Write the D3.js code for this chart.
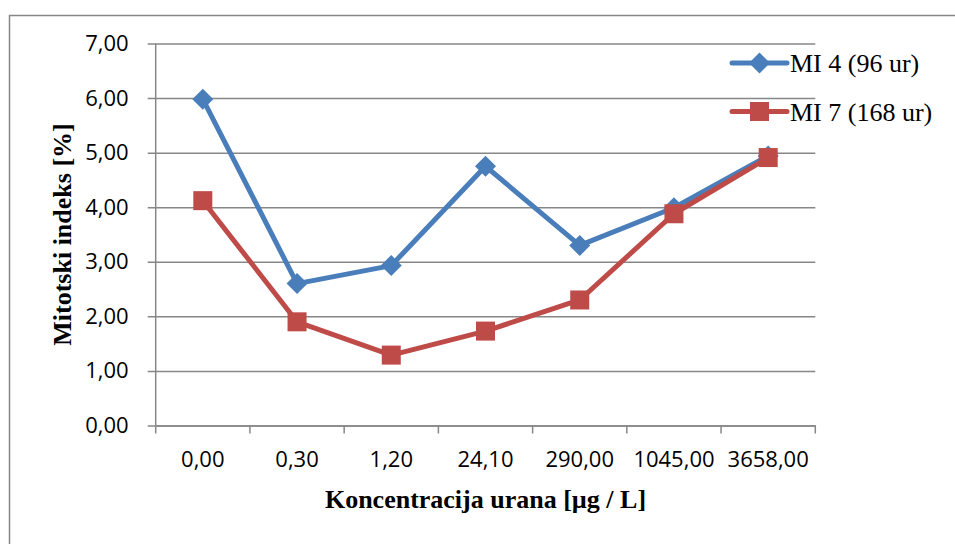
<!DOCTYPE html>
<html>
<head>
<meta charset="utf-8">
<script src="https://cdnjs.cloudflare.com/ajax/libs/d3/7.8.5/d3.min.js"></script>
<style>
    body { margin: 0; background: #fff; }
    svg { display: block; }
</style>
</head>
<body>
<div id="chart"></div>
<script>
var categories = ["0,00", "0,30", "1,20", "24,10", "290,00", "1045,00", "3658,00"];
var mi4 = [5.98, 2.60, 2.93, 4.75, 3.30, 3.99, 4.94];
var mi7 = [4.12, 1.90, 1.29, 1.73, 2.30, 3.88, 4.91];
var yTicks = [0, 1, 2, 3, 4, 5, 6, 7];
var seriesNames = ["MI 4 (96 ur)", "MI 7 (168 ur)"];

var width = 955, height = 544;
var margin = { left: 155.7, right: 139.7, top: 43.5, bottom: 118.5 };
var innerW = width - margin.left - margin.right;
var innerH = height - margin.top - margin.bottom;
var grid = "#878787";

var svg = d3.select("#chart").append("svg")
    .attr("width", width)
    .attr("height", height);

// outer chart border (cut off by the picture on the right and bottom)
svg.append("rect")
    .attr("x", 9.5).attr("y", 15.5)
    .attr("width", 1000).attr("height", 600)
    .attr("fill", "none")
    .attr("stroke", grid)
    .attr("stroke-width", 1.5);

var g = svg.append("g")
    .attr("transform", "translate(" + margin.left + "," + margin.top + ")");

var x = d3.scaleBand().domain(categories).range([0, innerW]);
var y = d3.scaleLinear().domain([0, 7]).range([innerH, 0]);

function cx(i) { return x(categories[i]) + x.bandwidth() / 2; }

// y axis with gridlines
var yAxis = g.append("g")
    .call(d3.axisLeft(y).tickValues(yTicks).tickSize(-innerW - 8).tickPadding(18)
        .tickFormat(function (d) { return d3.format(".2f")(d).replace(".", ","); }))
    .attr("transform", "translate(0,0)");
yAxis.select(".domain").remove();
yAxis.selectAll(".tick line")
    .attr("x1", -8).attr("x2", innerW)
    .attr("stroke", grid).attr("stroke-width", 1.5);
yAxis.selectAll(".tick text")
    .attr("x", -27)
    .attr("font-family", "'Open Sans', sans-serif")
    .attr("font-size", "22px")
    .attr("fill", "#000");

g.append("line")
    .attr("x1", 0).attr("x2", 0).attr("y1", 0).attr("y2", innerH)
    .attr("stroke", grid).attr("stroke-width", 1.5);

// x axis
var xAxis = g.append("g")
    .attr("transform", "translate(0," + innerH + ")")
    .call(d3.axisBottom(x).tickSize(0).tickPadding(26));
xAxis.select(".domain").attr("stroke", grid).attr("stroke-width", 1.5);
xAxis.selectAll(".tick text")
    .attr("font-family", "'Open Sans', sans-serif")
    .attr("font-size", "22px")
    .attr("fill", "#000");
xAxis.selectAll(".tick-mark")
    .data(d3.range(categories.length + 1))
    .enter().append("line")
    .attr("x1", function (i) { return i * x.step(); })
    .attr("x2", function (i) { return i * x.step(); })
    .attr("y1", 0).attr("y2", 8)
    .attr("stroke", grid).attr("stroke-width", 1.5);

// titles
svg.append("text")
    .attr("x", margin.left + innerW / 2)
    .attr("y", 508)
    .attr("text-anchor", "middle")
    .attr("font-family", "'Liberation Serif', 'Times New Roman', serif")
    .attr("font-weight", "bold")
    .attr("font-size", "26px")
    .text("Koncentracija urana [\u00b5g / L]");

svg.append("text")
    .attr("transform", "translate(71," + (margin.top + innerH / 2) + ") rotate(-90)")
    .attr("text-anchor", "middle")
    .attr("font-family", "'Liberation Serif', 'Times New Roman', serif")
    .attr("font-weight", "bold")
    .attr("font-size", "26px")
    .text("Mitotski indeks [%]");

// series
var series = [
    { name: seriesNames[0], values: mi4, color: "#4A7EBB", marker: "diamond" },
    { name: seriesNames[1], values: mi7, color: "#BE4B48", marker: "square" }
];

var line = d3.line()
    .x(function (d, i) { return cx(i); })
    .y(function (d) { return y(d); });

function drawMarker(sel, s) {
    if (s.marker === "diamond") {
        sel.append("path")
            .attr("d", "M0,-10.5L10.5,0L0,10.5L-10.5,0Z")
            .attr("fill", s.color);
    } else {
        sel.append("rect")
            .attr("x", -9.5).attr("y", -9.5)
            .attr("width", 19).attr("height", 19)
            .attr("fill", s.color);
    }
}

series.forEach(function (s) {
    g.append("path")
        .datum(s.values)
        .attr("d", line)
        .attr("fill", "none")
        .attr("stroke", s.color)
        .attr("stroke-width", 5)
        .attr("stroke-linejoin", "round");

    g.selectAll(null)
        .data(s.values)
        .enter().append("g")
        .attr("transform", function (d, i) { return "translate(" + cx(i) + "," + y(d) + ")"; })
        .each(function () { drawMarker(d3.select(this), s); });
});

// legend
var legend = svg.append("g").attr("transform", "translate(732,63)");
series.forEach(function (s, i) {
    var row = legend.append("g").attr("transform", "translate(0," + (i * 48.5) + ")");
    row.append("line")
        .attr("x1", 0).attr("x2", 55)
        .attr("stroke", s.color).attr("stroke-width", 5)
        .attr("stroke-linecap", "round");
    var m = row.append("g").attr("transform", "translate(27.5,0)");
    drawMarker(m, s);
    row.append("text")
        .attr("x", 58).attr("y", 9)
        .attr("font-family", "'Liberation Serif', 'Times New Roman', serif")
        .attr("font-size", "26px")
        .text(s.name);
});
</script>
</body>
</html>
